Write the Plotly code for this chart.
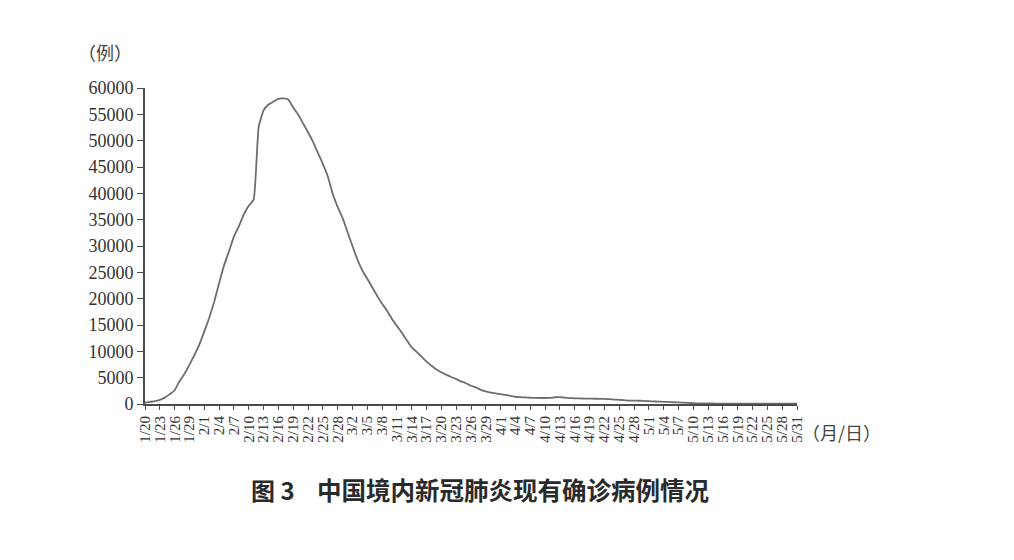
import datetime as dt
import plotly.graph_objects as go

# 现有确诊病例 (daily, 2020-01-20 .. 2020-05-31)
jan = [260, 403, 526, 771, 1208, 1870, 2613, 4349, 5739, 7417, 9308, 11289]
feb = [13748, 16369, 19381, 22942, 26302, 28985, 31774, 33738, 35982, 37626,
       38800, 52526, 55748, 56873, 57416, 57934, 58016, 57805, 56303, 54965,
       53284, 51606, 49824, 47672, 45604, 43258, 39919, 37414, 35329]
mar = [32652, 30004, 27433, 25352, 23784, 22177, 20533, 19016, 17721, 16145,
       14831, 13526, 12094, 10734, 9898, 8976, 8056, 7263, 6569, 6013,
       5549, 5120, 4735, 4287, 3947, 3460, 3128, 2691, 2396, 2161, 2004]
apr = [1863, 1727, 1562, 1376, 1299, 1242, 1190, 1160, 1141, 1138,
       1156, 1280, 1299, 1200, 1122, 1081, 1058, 1024, 1004, 1001,
       991, 959, 915, 838, 801, 723, 648, 647, 619, 606]
may = [533, 497, 459, 421, 400, 333, 294, 260, 230, 148,
       120, 100, 101, 91, 86, 85, 85, 82, 83, 79,
       76, 79, 73, 73, 70, 64, 63, 64, 64, 66, 71]
values = jan + feb + mar + apr + may

start = dt.date(2020, 1, 20)
dates = [f"{(start + dt.timedelta(days=i)).month}/{(start + dt.timedelta(days=i)).day}"
         for i in range(len(values))]

tick_labels = ["1/20", "1/23", "1/26", "1/29", "2/1", "2/4", "2/7", "2/10", "2/13",
               "2/16", "2/19", "2/22", "2/25", "2/28", "3/2", "3/5", "3/8", "3/11",
               "3/14", "3/17", "3/20", "3/23", "3/26", "3/29", "4/1", "4/4", "4/7",
               "4/10", "4/13", "4/16", "4/19", "4/22", "4/25", "4/28", "5/1", "5/4",
               "5/7", "5/10", "5/13", "5/16", "5/19", "5/22", "5/25", "5/28", "5/31"]
y_ticks = [0, 5000, 10000, 15000, 20000, 25000, 30000, 35000, 40000, 45000,
           50000, 55000, 60000]

title_fig = "图 3"
title_text = "中国境内新冠肺炎现有确诊病例情况"
y_unit = "（例）"
x_unit = "（月/日）"

fig = go.Figure()
fig.add_trace(go.Scatter(
    x=dates, y=values, mode="lines",
    line=dict(color="#6e6e6e", width=1.8, shape="spline", smoothing=0.4),
    hoverinfo="x+y", showlegend=False,
))

axis_color = "#4a4a4a"
serif = "Liberation Serif"

fig.update_layout(
    width=1014, height=560,
    margin=dict(l=137, r=225, t=80, b=164),
    paper_bgcolor="white", plot_bgcolor="white",
    xaxis=dict(
        type="category", range=[0, len(values) - 1],
        tickmode="array", tickvals=tick_labels, ticktext=tick_labels,
        tickangle=-90, ticks="outside", ticklen=4, tickwidth=1.2, tickcolor=axis_color,
        showline=True, linecolor=axis_color, linewidth=2,
        showgrid=False, zeroline=False,
        tickfont=dict(family=serif, size=15, color="#333"),
    ),
    yaxis=dict(
        range=[0, 60000], tickmode="array", tickvals=y_ticks,
        ticktext=[str(v) for v in y_ticks],
        ticks="outside", ticklen=6, tickwidth=1.2, tickcolor=axis_color,
        showline=True, linecolor=axis_color, linewidth=2,
        showgrid=False, zeroline=False,
        tickfont=dict(family=serif, size=18, color="#333"),
    ),
    annotations=[
        dict(text=y_unit, xref="paper", yref="paper", x=-0.062, y=1.114,
             xanchor="center", yanchor="middle", showarrow=False,
             font=dict(family="Noto Sans CJK SC", size=18, color="#444")),
        dict(text=x_unit, xref="paper", yref="paper", x=1.004, y=-0.0886,
             xanchor="left", yanchor="middle", showarrow=False,
             font=dict(family="Noto Sans CJK SC", size=18, color="#444")),
        dict(text="<b>" + title_fig + "</b>", xref="paper", yref="paper",
             x=0.16, y=-0.272, xanchor="left", yanchor="middle", showarrow=False,
             font=dict(family="Noto Sans CJK SC", size=24, color="#2a2a2a")),
        dict(text="<b>" + title_text + "</b>", xref="paper", yref="paper",
             x=0.2607, y=-0.272, xanchor="left", yanchor="middle", showarrow=False,
             font=dict(family="Noto Sans CJK SC", size=24.5, color="#2a2a2a")),
    ],
)

fig.write_html("out.html")
